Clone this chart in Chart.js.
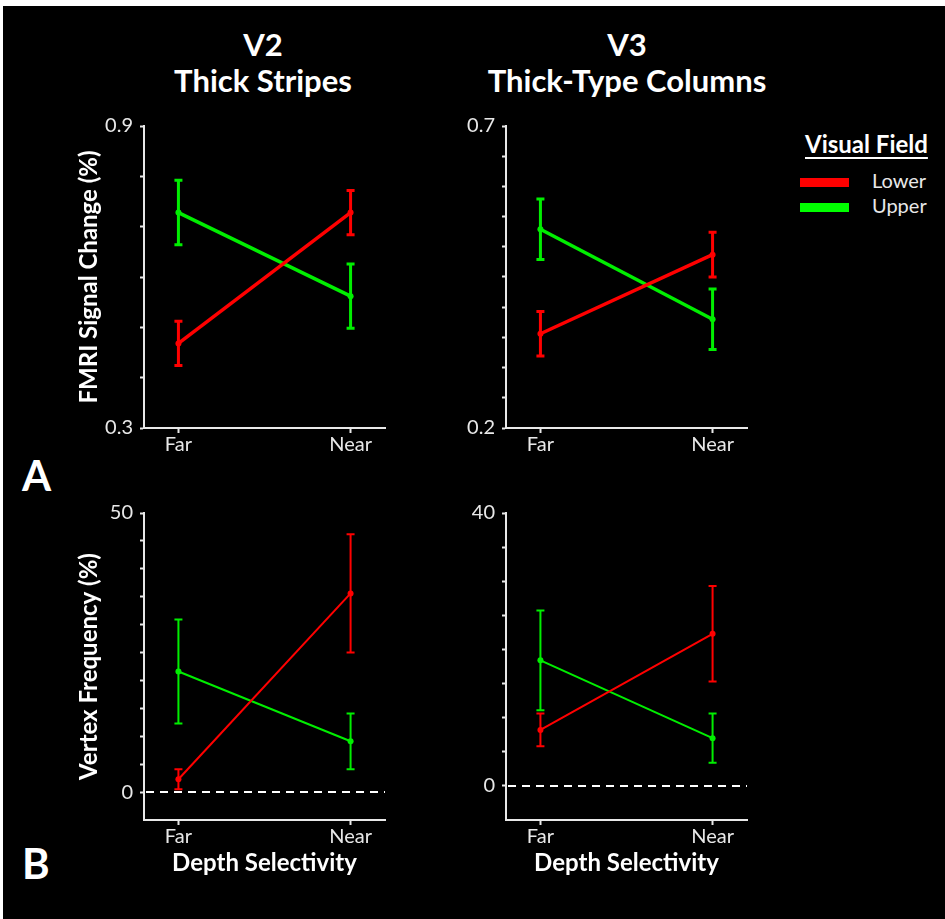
<!DOCTYPE html>
<html>
<head>
<meta charset="utf-8">
<script src="https://cdn.jsdelivr.net/npm/chart.js@4.4.1/dist/chart.umd.min.js"></script>
<style>
  html, body { margin: 0; padding: 0; background: #ffffff; }
  body { width: 945px; height: 919px; position: relative; overflow: hidden; font-family: Lato, "Open Sans", sans-serif; }
  #bg { position: absolute; left: 3px; top: 6px; right: 0; bottom: 0; background: #000; }
  canvas { position: absolute; }
  .t { position: absolute; color: #fff; white-space: nowrap; font-weight: bold; }
  .center { transform: translateX(-50%); text-align: center; }
</style>
</head>
<body>
<div id="bg"></div>

<div class="t center" style="left:263px; top:26px; font-size:31px; line-height:36px;">V2<br>Thick Stripes</div>
<div class="t center" style="left:627px; top:26px; font-size:31px; line-height:36px;">V3<br>Thick-Type Columns</div>

<div class="t" style="left:22px; top:450px; font-size:42px;">A</div>
<div class="t" style="left:22px; top:838px; font-size:42px;">B</div>

<div class="t" style="left:805px; top:129px; font-size:24px; text-decoration: underline; text-underline-offset: 4px;">Visual Field</div>
<div style="position:absolute; left:800px; top:178px; width:49px; height:9px; background:#ff0000;"></div>
<div style="position:absolute; left:800px; top:203px; width:49px; height:9px; background:#00ff00;"></div>
<div class="t" style="left:872px; top:168px; font-size:20px; font-weight:normal; color:#e8e8e8;">Lower</div>
<div class="t" style="left:872px; top:193px; font-size:20px; font-weight:normal; color:#e8e8e8;">Upper</div>

<canvas id="c1" width="360" height="360" style="left:40px; top:100px;"></canvas>
<canvas id="c2" width="360" height="360" style="left:402px; top:100px;"></canvas>
<canvas id="c3" width="360" height="400" style="left:40px; top:490px;"></canvas>
<canvas id="c4" width="360" height="400" style="left:402px; top:490px;"></canvas>

<script>
// ---------------- DATA ----------------
const categories = ['Far', 'Near'];
const seriesNames = ['Lower', 'Upper'];

// Panel A: FMRI signal change (%)
const v2FmriLower = [0.468, 0.728];
const v2FmriLowerErr = [0.044, 0.044];
const v2FmriUpper = [0.728, 0.562];
const v2FmriUpperErr = [0.064, 0.064];

const v3FmriLower = [0.356, 0.487];
const v3FmriLowerErr = [0.037, 0.037];
const v3FmriUpper = [0.529, 0.380];
const v3FmriUpperErr = [0.050, 0.050];

// Panel B: Vertex frequency (%)
const v2VertexLower = [2.3, 35.6];
const v2VertexLowerErr = [1.8, 10.6];
const v2VertexUpper = [21.6, 9.1];
const v2VertexUpperErr = [9.3, 5.0];

const v3VertexLower = [8.2, 22.3];
const v3VertexLowerErr = [2.4, 7.0];
const v3VertexUpper = [18.4, 7.0];
const v3VertexUpperErr = [7.3, 3.6];

// Axis ticks
const v2FmriTicks = [0.3, 0.4, 0.5, 0.6, 0.7, 0.8, 0.9];
const v3FmriTicks = [0.2, 0.25, 0.3, 0.35, 0.4, 0.45, 0.5, 0.55, 0.6, 0.65, 0.7];
const v2VertexTicks = [0, 5, 10, 15, 20, 25, 30, 35, 40, 45, 50];
const v3VertexTicks = [0, 5, 10, 15, 20, 25, 30, 35, 40];

const RED = '#ff0000';
const GREEN = '#00ee00';
const FONT = 'Lato, "Open Sans", sans-serif';

// ---------------- PLUGINS ----------------
const errorBarPlugin = {
  id: 'errorBars',
  afterDatasetsDraw(chart, args, opts) {
    const ctx = chart.ctx;
    const ys = chart.scales.y, xs = chart.scales.x;
    chart.data.datasets.forEach((ds) => {
      if (!ds.errors) return;
      ctx.save();
      ctx.strokeStyle = ds.borderColor;
      ctx.lineWidth = opts.width;
      ds.data.forEach((p, i) => {
        const e = ds.errors[i];
        const x = xs.getPixelForValue(p.x);
        const y1 = ys.getPixelForValue(p.y + e);
        const y2 = ys.getPixelForValue(p.y - e);
        ctx.beginPath();
        ctx.moveTo(x, y1); ctx.lineTo(x, y2);
        ctx.moveTo(x - opts.cap, y1); ctx.lineTo(x + opts.cap, y1);
        ctx.moveTo(x - opts.cap, y2); ctx.lineTo(x + opts.cap, y2);
        ctx.stroke();
      });
      ctx.restore();
    });
  }
};

const zeroLinePlugin = {
  id: 'zeroLine',
  beforeDatasetsDraw(chart, args, opts) {
    if (!opts.show) return;
    const ctx = chart.ctx;
    const y = chart.scales.y.getPixelForValue(0);
    ctx.save();
    ctx.strokeStyle = '#ffffff';
    ctx.lineWidth = 2;
    ctx.setLineDash([8, 6]);
    ctx.beginPath();
    ctx.moveTo(chart.chartArea.left + 2, y);
    ctx.lineTo(chart.chartArea.right, y);
    ctx.stroke();
    ctx.restore();
  }
};

function pts(arr) { return arr.map((v, i) => ({ x: i, y: v })); }

function makeChart(id, cfg) {
  const datasets = [
    { label: seriesNames[0], data: pts(cfg.lower), errors: cfg.lowerErr, borderColor: RED, backgroundColor: RED },
    { label: seriesNames[1], data: pts(cfg.upper), errors: cfg.upperErr, borderColor: GREEN, backgroundColor: GREEN }
  ].map(d => Object.assign(d, { borderWidth: cfg.lineWidth, pointRadius: cfg.pointRadius, pointBorderWidth: 0, showLine: true, tension: 0 }));

  return new Chart(document.getElementById(id), {
    type: 'scatter',
    data: { datasets },
    plugins: [errorBarPlugin, zeroLinePlugin],
    options: {
      responsive: false,
      animation: false,
      devicePixelRatio: 1,
      layout: { padding: { top: cfg.padTop, right: 15, left: 0, bottom: 0 } },
      plugins: {
        legend: { display: false },
        tooltip: { enabled: false },
        errorBars: { width: cfg.errWidth, cap: 4 },
        zeroLine: { show: cfg.zero }
      },
      scales: {
        x: {
          type: 'linear', min: -0.2, max: 1.2,
          border: { display: true, color: '#e8e8e8', width: 2 },
          grid: { display: true, drawOnChartArea: false, tickLength: 5, tickColor: '#e8e8e8', tickWidth: 2 },
          afterBuildTicks: (s) => { s.ticks = categories.map((c, i) => ({ value: i })); },
          afterFit: (s) => { s.height = cfg.xHeight; },
          ticks: {
            autoSkip: false, maxRotation: 0, padding: 0, color: '#e8e8e8',
            font: { family: FONT, size: 20 },
            callback: (v) => categories[v]
          },
          title: {
            display: cfg.xTitle, text: 'Depth Selectivity', color: '#ffffff',
            font: { family: FONT, size: 24, weight: 'bold' }, padding: { top: 0, bottom: 12 }
          }
        },
        y: {
          type: 'linear', min: cfg.min, max: cfg.max,
          border: { display: true, color: '#e8e8e8', width: 2 },
          grid: { display: true, drawOnChartArea: false, tickLength: 4, tickColor: '#e8e8e8', tickWidth: 2 },
          afterBuildTicks: (s) => { s.ticks = cfg.ticks.map(v => ({ value: v })); },
          afterFit: (s) => { s.width = 104; },
          ticks: {
            autoSkip: false, padding: 7, color: '#e8e8e8',
            font: { family: FONT, size: 20 },
            callback: (v, i, t) => (i === 0 || i === t.length - 1) ? String(v) : ''
          },
          title: {
            display: !!cfg.yTitle, text: cfg.yTitle || '', color: '#ffffff',
            font: { family: FONT, size: 24, weight: 'bold' }, padding: { top: 35, bottom: 0 }
          }
        }
      }
    }
  });
}

makeChart('c1', { lower: v2FmriLower, lowerErr: v2FmriLowerErr, upper: v2FmriUpper, upperErr: v2FmriUpperErr,
  min: 0.3, max: 0.9, ticks: v2FmriTicks, yTitle: 'FMRI Signal Change (%)', xTitle: false,
  padTop: 26, xHeight: 32, lineWidth: 3.5, pointRadius: 3, errWidth: 3, zero: false });
makeChart('c2', { lower: v3FmriLower, lowerErr: v3FmriLowerErr, upper: v3FmriUpper, upperErr: v3FmriUpperErr,
  min: 0.2, max: 0.7, ticks: v3FmriTicks, yTitle: '', xTitle: false,
  padTop: 26, xHeight: 32, lineWidth: 3.5, pointRadius: 3, errWidth: 3, zero: false });
makeChart('c3', { lower: v2VertexLower, lowerErr: v2VertexLowerErr, upper: v2VertexUpper, upperErr: v2VertexUpperErr,
  min: -5, max: 50, ticks: v2VertexTicks, yTitle: 'Vertex Frequency (%)', xTitle: true,
  padTop: 23, xHeight: 70, lineWidth: 2, pointRadius: 3, errWidth: 2, zero: true });
makeChart('c4', { lower: v3VertexLower, lowerErr: v3VertexLowerErr, upper: v3VertexUpper, upperErr: v3VertexUpperErr,
  min: -5, max: 40, ticks: v3VertexTicks, yTitle: '', xTitle: true,
  padTop: 23, xHeight: 70, lineWidth: 2, pointRadius: 3, errWidth: 2, zero: true });
</script>
</body>
</html>
